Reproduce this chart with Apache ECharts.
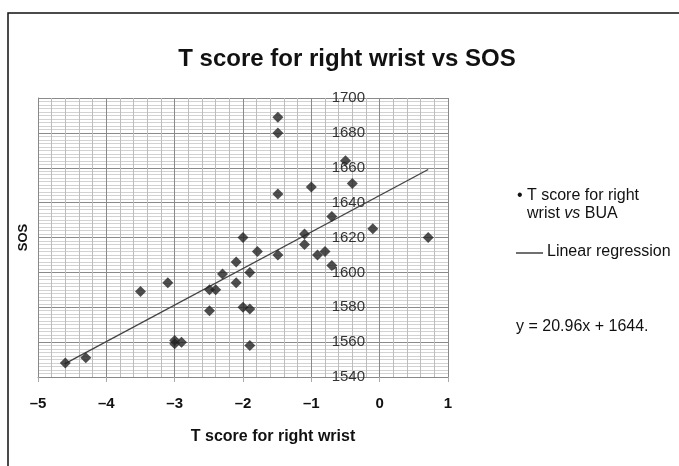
<!DOCTYPE html>
<html>
<head>
<meta charset="utf-8">
<script src="https://cdn.jsdelivr.net/npm/echarts@6/dist/echarts.min.js"></script>
<style>
  html, body { margin: 0; padding: 0; background: #fff; }
  #main { width: 679px; height: 466px; }
</style>
</head>
<body>
<div id="main"></div>
<script>
// T score (right wrist) against SOS
var tScore = [-1.49, -1.49, -0.50, -0.40, -1.00, -1.49, -0.70, -0.10, 0.71, -2.00,
              -1.10, -1.10, -1.79, -1.49, -0.91, -0.80, -2.10, -1.90, -0.70, -2.10,
              -2.30, -3.10, -3.50, -2.49, -2.40, -2.49, -2.00, -1.90, -3.00, -3.00,
              -2.90, -1.90, -4.30, -4.60];
var sos = [1689, 1680, 1664, 1651, 1649, 1645, 1632, 1625, 1620, 1620,
           1622, 1616, 1612, 1610, 1610, 1612, 1606, 1600, 1604, 1594,
           1599, 1594, 1589, 1590, 1590, 1578, 1580, 1579, 1561, 1559,
           1560, 1558, 1551, 1548];

// regression line end points
var regX = [-4.61, 0.71];
var regY = [1547.5, 1659.0];

var xTickLabels = {'-5': '–5', '-4': '–4', '-3': '–3', '-2': '–2', '-1': '–1', '0': '0', '1': '1'};

var points = [];
for (var i = 0; i < tScore.length; i++) {
    points.push([tScore[i], sos[i]]);
}
var regLine = [];
for (var j = 0; j < regX.length; j++) {
    regLine.push([regX[j], regY[j]]);
}

var font = 'Liberation Sans, Arial, sans-serif';

option = {
    backgroundColor: '#fff',
    animation: false,
    title: {
        text: 'T score for right wrist vs SOS',
        left: 347,
        top: 47,
        padding: 0,
        textAlign: 'center',
        textStyle: { fontFamily: font, fontSize: 24, fontWeight: 'bold', color: '#111' }
    },
    grid: { left: 38, top: 98, right: 231, bottom: 89 },
    xAxis: {
        type: 'value',
        min: -5,
        max: 1,
        interval: 1,
        name: 'T score for right wrist',
        nameLocation: 'middle',
        nameGap: 52,
        nameTextStyle: {
            fontFamily: font, fontSize: 16, fontWeight: 'bold', color: '#111',
            padding: [0, 0, 0, 60]
        },
        axisLine: { show: true, onZero: false, lineStyle: { color: '#888', width: 1 } },
        axisTick: { show: true, length: 5, lineStyle: { color: '#aaa' } },
        axisLabel: {
            margin: 19,
            fontFamily: font, fontSize: 15, fontWeight: 'bold', color: '#111',
            formatter: function (v) { return xTickLabels[String(v)]; }
        },
        splitLine: { show: true, lineStyle: { color: '#8a8a8a', width: 1 } },
        minorTick: { show: false, splitNumber: 5 },
        minorSplitLine: { show: true, lineStyle: { color: '#bdbdbd', width: 1 } }
    },
    yAxis: {
        type: 'value',
        min: 1540,
        max: 1700,
        interval: 20,
        name: 'SOS',
        nameLocation: 'middle',
        nameGap: 4,
        nameRotate: 90,
        nameTextStyle: { fontFamily: font, fontSize: 13, fontWeight: 'bold', color: '#111' },
        axisLine: { show: true, onZero: false, lineStyle: { color: '#888', width: 1 } },
        axisTick: { show: false },
        axisLabel: {
            margin: -327,
            fontFamily: font, fontSize: 15, color: '#333',
            formatter: function (v) { return String(v); }
        },
        splitLine: { show: true, lineStyle: { color: '#8a8a8a', width: 1 } },
        minorTick: { show: false, splitNumber: 10 },
        minorSplitLine: { show: true, lineStyle: { color: '#d2d2d2', width: 1 } }
    },
    series: [
        {
            name: 'T score for right wrist vs BUA',
            type: 'scatter',
            data: points,
            symbol: 'diamond',
            symbolSize: 11,
            itemStyle: { color: '#222' },
            z: 3
        },
        {
            name: 'Linear regression',
            type: 'line',
            data: regLine,
            symbol: 'none',
            lineStyle: { color: '#444', width: 1.3 },
            z: 2
        }
    ],
    graphic: [
        {
            type: 'rect',
            shape: { x: 8, y: 13, width: 720, height: 520 },
            style: { fill: null, stroke: '#111', lineWidth: 1.5 },
            silent: true
        },
        {
            type: 'text', left: 517, top: 188,
            style: { text: '•', fontFamily: font, fontSize: 16, fill: '#111' }
        },
        {
            type: 'text', left: 527, top: 188,
            style: { text: 'T score for right', fontFamily: font, fontSize: 16, fill: '#111' }
        },
        {
            type: 'text', left: 527, top: 206,
            style: {
                text: '{a|wrist }{i|vs}{a| BUA}',
                rich: {
                    a: { fontFamily: font, fontSize: 16, fill: '#111' },
                    i: { fontFamily: font, fontSize: 16, fontStyle: 'italic', fill: '#111' }
                }
            }
        },
        {
            type: 'line',
            shape: { x1: 516, y1: 253, x2: 543, y2: 253 },
            style: { stroke: '#222', lineWidth: 1.3 }
        },
        {
            type: 'text', left: 547, top: 244,
            style: { text: 'Linear regression', fontFamily: font, fontSize: 16, fill: '#111' }
        },
        {
            type: 'text', left: 516, top: 319,
            style: { text: 'y = 20.96x + 1644.', fontFamily: font, fontSize: 16, fill: '#111' }
        }
    ]
};

var myChart = echarts.init(document.getElementById('main'));
myChart.setOption(option);
</script>
</body>
</html>
